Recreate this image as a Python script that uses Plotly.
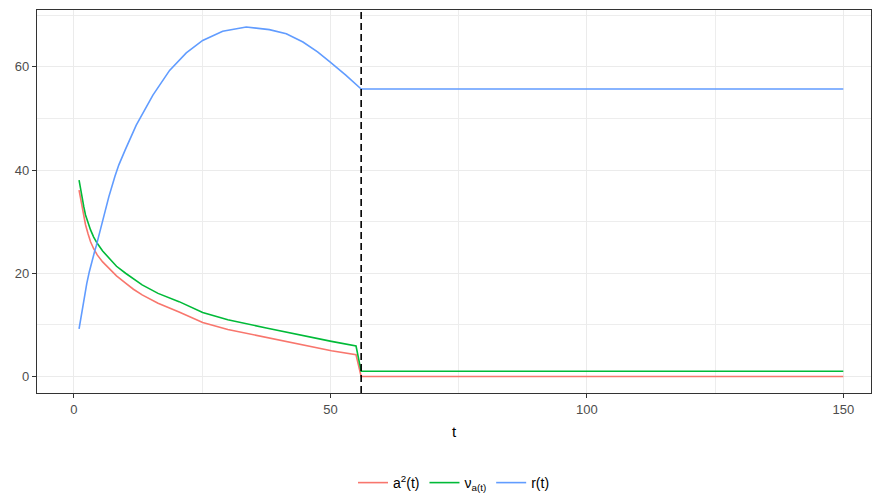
import plotly.graph_objects as go

# ---- data ----
t_ab = [1, 1.3, 1.62, 1.93, 2.26, 2.75, 3.24, 3.85, 4.54, 5.6, 6.8, 8.3, 10.07, 11.6, 13.3, 16.4,
        20.5, 25.1, 30, 37.5, 45, 50.2, 55, 56, 150]
a2 = [36.1, 34.3, 32.6, 30.95, 29.4, 27.65, 26.1, 24.75, 23.55, 22.2, 21.0, 19.5, 18.1, 16.9, 15.8,
      14.2, 12.5, 10.45, 9.1, 7.55, 6.0, 5.0, 4.2, 0, 0]
nu = [38.05, 36.2, 34.5, 32.85, 31.3, 29.8, 28.4, 27.0, 25.8, 24.3, 22.9, 21.35, 20.0, 18.9, 17.75,
      16.1, 14.5, 12.4, 11.0, 9.4, 7.8, 6.8, 5.9, 1, 1]

t_r = [1, 1.74, 2, 2.5, 3, 3.5, 4, 4.35, 5, 6, 6.8, 8, 8.76, 10, 12.15, 15.4, 18.65, 21.9, 25.1,
       29, 33.6, 38.1, 41.4, 44.65, 47.5, 49.85, 53, 56, 150]
r = [9.2, 13.9, 15.4, 18.0, 20.3, 22.4, 24.1, 25.3, 27.9, 31.8, 34.8, 38.8, 41.0, 43.9, 48.7, 54.5,
     59.3, 62.7, 65.1, 66.9, 67.7, 67.2, 66.4, 64.8, 62.9, 61.0, 58.4, 55.7, 55.7]

vline_t = 56
series_names = ["a<sup>2</sup>(t)", "ν<sub>a(t)</sub>", "r(t)"]
series_colors = ["#F8766D", "#00BA38", "#619CFF"]
x_ticks = [0, 50, 100, 150]
y_ticks = [0, 20, 40, 60]

fig = go.Figure()
for x, y, name, col in [(t_ab, a2, series_names[0], series_colors[0]),
                        (t_ab, nu, series_names[1], series_colors[1]),
                        (t_r, r, series_names[2], series_colors[2])]:
    fig.add_trace(go.Scatter(x=x, y=y, mode="lines", name=name,
                             line=dict(color=col, width=1.6)))

fig.add_shape(type="line", xref="x", yref="paper", x0=vline_t, x1=vline_t, y0=0, y1=1,
              line=dict(color="black", width=1.6, dash="7px,4px"))

font = "Liberation Sans, Arial, sans-serif"
axis_common = dict(
    showline=True, mirror=True, linecolor="#333333", linewidth=1.2,
    ticks="outside", ticklen=4, tickcolor="#333333", tickwidth=1,
    showgrid=True, gridcolor="#EBEBEB", gridwidth=1.4, zeroline=False,
    tickfont=dict(family=font, size=13, color="#4D4D4D"),
)
fig.update_xaxes(**axis_common, range=[-7.2, 155.4], tickvals=x_ticks,
                 minor=dict(showgrid=True, gridcolor="#EDEDED", gridwidth=0.8, tickvals=[25, 75, 125]),
                 title=dict(text="t", font=dict(family=font, size=15, color="black"), standoff=10))
fig.update_yaxes(**axis_common, range=[-3.2, 71.0], tickvals=y_ticks,
                 minor=dict(showgrid=True, gridcolor="#EDEDED", gridwidth=0.8, tickvals=[10, 30, 50, 70]))

fig.update_layout(
    width=872, height=495,
    margin=dict(l=37, r=1, t=10, b=102, autoexpand=False),
    plot_bgcolor="white", paper_bgcolor="white",
    font=dict(family=font, size=13, color="black"),
    legend=dict(orientation="h", x=0.5, xanchor="center", y=-0.235, yanchor="middle",
                font=dict(family=font, size=14, color="black"),
                itemwidth=30, tracegroupgap=0),
    showlegend=True,
)

fig.write_html("out.html", config={"displayModeBar": False},
               post_script="document.body.style.margin='0';document.body.style.overflow='hidden';")
